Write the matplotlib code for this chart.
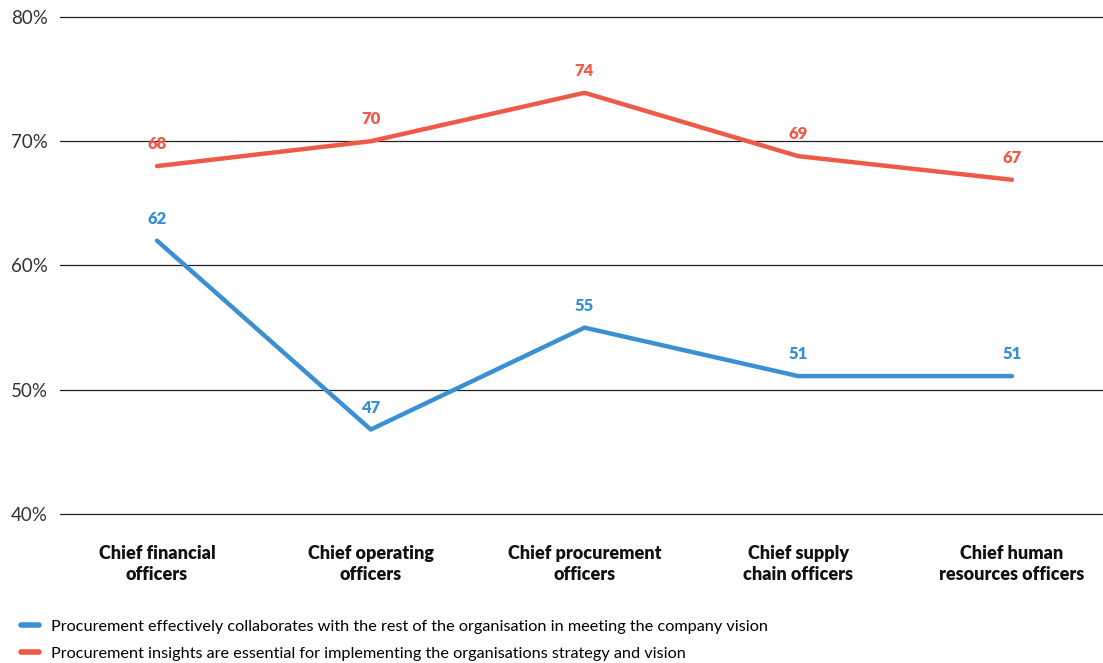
import numpy as np
from matplotlib import pyplot as plt
from matplotlib.lines import Line2D

plt.rcParams['font.family'] = ['Lato', 'DejaVu Sans']

roles = ['Chief financial\nofficers', 'Chief operating\nofficers',
         'Chief procurement\nofficers', 'Chief supply\nchain officers',
         'Chief human\nresources officers']
collab = [62.0, 46.8, 55.0, 51.1, 51.1]
insights = [68.0, 70.0, 73.9, 68.8, 66.9]
collab_labels = ['62', '47', '55', '51', '51']
insights_labels = ['68', '70', '74', '69', '67']
yticks = [40, 50, 60, 70, 80]
legend_texts = ['Procurement effectively collaborates with the rest of the organisation in meeting the company vision',
                'Procurement insights are essential for implementing the organisations strategy and vision']

blue = '#3b8fd3'
red = '#ef5a48'

fig = plt.figure(figsize=(11.03, 6.63), dpi=100)
ax = fig.add_axes([0.0544, 0.2247, 0.9456, 0.7497])

x = np.arange(len(roles))
ax.plot(x, collab, color=blue, lw=3.2, solid_capstyle='round', zorder=3)
ax.plot(x, insights, color=red, lw=3.2, solid_capstyle='round', zorder=3)

for xi, v, s in zip(x, collab, collab_labels):
    ax.annotate(s, (xi, v), xytext=(0, 10), textcoords='offset points',
                ha='center', va='bottom', color=blue, fontsize=12, fontweight='heavy')
for xi, v, s in zip(x, insights, insights_labels):
    ax.annotate(s, (xi, v), xytext=(0, 10), textcoords='offset points',
                ha='center', va='bottom', color=red, fontsize=12, fontweight='heavy')

for t in yticks:
    ax.axhline(t, color='#222222', lw=0.9, zorder=1, clip_on=False)

ax.set_xlim(-0.454, 4.426)
ax.set_ylim(40, 80)
ax.set_yticks(yticks)
ax.set_yticklabels([f'{t}%' for t in yticks], fontsize=13.5, color='#333333')
ax.set_xticks(x)
ax.set_xticklabels(roles, fontsize=13, fontweight='heavy', color='#111111', linespacing=1.3)
ax.tick_params(axis='both', length=0)
ax.tick_params(axis='x', pad=22)
ax.tick_params(axis='y', pad=9)
for sp in ax.spines.values():
    sp.set_visible(False)

handles = [Line2D([], [], color=blue, lw=4, solid_capstyle='round'),
           Line2D([], [], color=red, lw=4, solid_capstyle='round')]
fig.legend(handles, legend_texts, loc='upper left', bbox_to_anchor=(0.013, 0.075),
           bbox_transform=fig.transFigure, frameon=False, fontsize=11.7,
           handlelength=1.1, handletextpad=0.75, labelspacing=0.75, borderaxespad=0)

fig.savefig('out.png', dpi=100)
